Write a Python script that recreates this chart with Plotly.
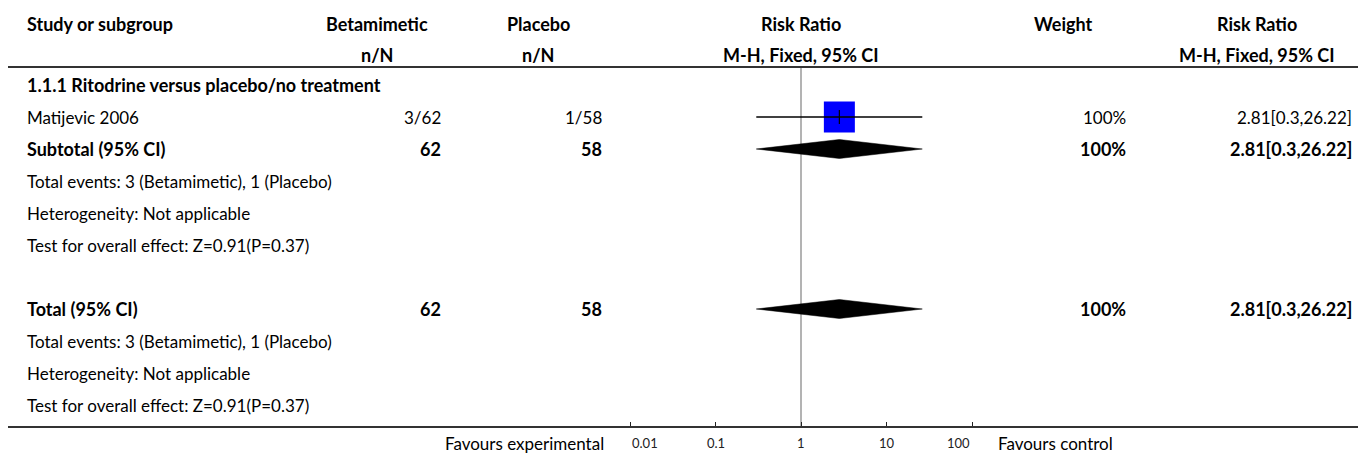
import numpy as np
import plotly.graph_objects as go

# ---- data ----
subgroup_title = "1.1.1 Ritodrine versus placebo/no treatment"
studies = ["Matijevic 2006"]
exp_events = [3]
exp_total = [62]
ctl_events = [1]
ctl_total = [58]
study_rr = [2.81]
study_lo = [0.3]
study_hi = [26.22]
study_weight = [100]

pooled_labels = ["Subtotal (95% CI)", "Total (95% CI)"]
pooled_exp_total = [62, 62]
pooled_ctl_total = [58, 58]
pooled_rr = [2.81, 2.81]
pooled_lo = [0.3, 0.3]
pooled_hi = [26.22, 26.22]
pooled_weight = [100, 100]

summary_lines = [
    "Total events: 3 (Betamimetic), 1 (Placebo)",
    "Heterogeneity: Not applicable",
    "Test for overall effect: Z=0.91(P=0.37)",
]

axis_ticks = [0.01, 0.1, 1, 10, 100]
axis_tick_labels = ["0.01", "0.1", "1", "10", "100"]

# ---- layout constants (pixels) ----
W, H = 1358, 455
ROW0, ROW_H = 85, 32          # centre of first body row, row pitch
X_ONE, DECADE = 801, 85.5     # pixel of RR=1, pixels per decade
FONT = "Lato"
FS = 17                       # regular text
FS_B = 18                     # bold text


def px_to_row(py):
    return (py - ROW0) / ROW_H


def px_x(px):
    return px / W


def fmt_rr(r, lo, hi):
    return f"{r:g}[{lo:g},{hi:g}]"


fig = go.Figure()
annotations = []
shapes = []


def add_text(text, px, row, anchor="left", bold=False, size=None, color="#000"):
    if size is None:
        size = FS_B if bold else FS
    if bold:
        text = f"<b>{text}</b>"
    annotations.append(dict(
        text=text, x=px_x(px), xref="paper", y=row, yref="y",
        xanchor=anchor, yanchor="middle", showarrow=False,
        font=dict(family=FONT, size=size, color=color),
    ))


# header
h1, h2 = px_to_row(24), px_to_row(55)
add_text("Study or subgroup", 25, h1, bold=True)
add_text("Betamimetic", 377, h1, "center", True)
add_text("n/N", 377, h2, "center", True)
add_text("Placebo", 538, h1, "center", True)
add_text("n/N", 538, h2, "center", True)
add_text("Risk Ratio", X_ONE, h1, "center", True)
add_text("M-H, Fixed, 95% CI", X_ONE, h2, "center", True)
add_text("Weight", 1063, h1, "center", True)
add_text("Risk Ratio", 1257, h1, "center", True)
add_text("M-H, Fixed, 95% CI", 1257, h2, "center", True)

# subgroup title
add_text(subgroup_title, 25, 0, bold=True)

# study rows
study_rows = [1 + i for i in range(len(studies))]
for i, r in enumerate(study_rows):
    add_text(studies[i], 25, r)
    add_text(f"{exp_events[i]}/{exp_total[i]}", 443, r, "right")
    add_text(f"{ctl_events[i]}/{ctl_total[i]}", 604, r, "right")
    add_text(f"{study_weight[i]}%", 1128, r, "right")
    add_text(fmt_rr(study_rr[i], study_lo[i], study_hi[i]), 1354, r, "right")

# pooled rows with their summary lines
pooled_rows = [2, 7]
for k, r in enumerate(pooled_rows):
    add_text(pooled_labels[k], 25, r, bold=True)
    add_text(str(pooled_exp_total[k]), 443, r, "right", True)
    add_text(str(pooled_ctl_total[k]), 604, r, "right", True)
    add_text(f"{pooled_weight[k]}%", 1128, r, "right", True)
    add_text(fmt_rr(pooled_rr[k], pooled_lo[k], pooled_hi[k]), 1354, r, "right", True)
    for j, line in enumerate(summary_lines):
        add_text(line, 25, r + 1 + j)

# study squares, CI lines and centre ticks
lx = np.log10(study_rr)
fig.add_trace(go.Scatter(
    x=lx, y=study_rows, mode="markers",
    marker=dict(symbol="square", size=[31 for _ in study_weight], color="#0000FF",
                opacity=1, line=dict(width=0)),
    hoverinfo="skip",
))
for i, r in enumerate(study_rows):
    fig.add_trace(go.Scatter(
        x=[np.log10(study_lo[i]), np.log10(study_hi[i])], y=[r, r],
        mode="lines", line=dict(color="#000", width=1.3), hoverinfo="skip",
    ))
fig.add_trace(go.Scatter(
    x=lx, y=study_rows, mode="markers",
    marker=dict(symbol="line-ns", size=10, line=dict(color="#000", width=1.2)),
    hoverinfo="skip",
))

# pooled diamonds
half_h = 9.5 / ROW_H
for k, r in enumerate(pooled_rows):
    lo, est, hi = np.log10([pooled_lo[k], pooled_rr[k], pooled_hi[k]])
    fig.add_trace(go.Scatter(
        x=[lo, est, hi, est, lo], y=[r, r - half_h, r, r + half_h, r],
        mode="lines", fill="toself", fillcolor="#000",
        line=dict(color="#000", width=0.5), hoverinfo="skip",
    ))

# line of no effect
top_row, bottom_row = px_to_row(67), px_to_row(427)
shapes.append(dict(type="line", xref="x", yref="y", x0=0, x1=0,
                   y0=top_row, y1=bottom_row,
                   line=dict(color="#9a9a9a", width=1.5), layer="below"))
# header rule and bottom rule
shapes.append(dict(type="line", xref="paper", yref="y", x0=px_x(8), x1=1,
                   y0=top_row, y1=top_row, line=dict(color="#333", width=2)))
shapes.append(dict(type="line", xref="paper", yref="y", x0=px_x(8), x1=1,
                   y0=bottom_row, y1=bottom_row, line=dict(color="#333", width=2)))

# axis tick labels
lab_row = px_to_row(443)
tick_pos = np.log10(axis_ticks)
for j, (tv, tl) in enumerate(zip(tick_pos, axis_tick_labels)):
    anchor = "left" if j == 0 else ("right" if j == len(axis_ticks) - 1 else "center")
    annotations.append(dict(
        text=tl, x=tv, xref="x", y=lab_row, yref="y", xanchor=anchor,
        yanchor="middle", showarrow=False,
        font=dict(family=FONT, size=13, color="#222"),
    ))
add_text("Favours experimental", 606, lab_row, "right")
add_text("Favours control", 996, lab_row, "left")

fig.update_layout(
    width=W, height=H,
    margin=dict(l=0, r=0, t=0, b=0),
    paper_bgcolor="white", plot_bgcolor="white",
    showlegend=False,
    annotations=annotations, shapes=shapes,
    xaxis=dict(
        range=[-X_ONE / DECADE, (W - X_ONE) / DECADE],
        domain=[0, 1], anchor="free", position=1 - 427 / H,
        tickvals=tick_pos, ticktext=axis_tick_labels, showticklabels=False,
        ticks="inside", ticklen=5, tickwidth=1, tickcolor="#222",
        showgrid=False, zeroline=False, showline=False, fixedrange=True,
    ),
    yaxis=dict(
        range=[px_to_row(H), px_to_row(0)], domain=[0, 1],
        showticklabels=False, showgrid=False, zeroline=False, showline=False,
        ticks="", fixedrange=True,
    ),
)

fig.write_html("out.html", config={"displayModeBar": False})
